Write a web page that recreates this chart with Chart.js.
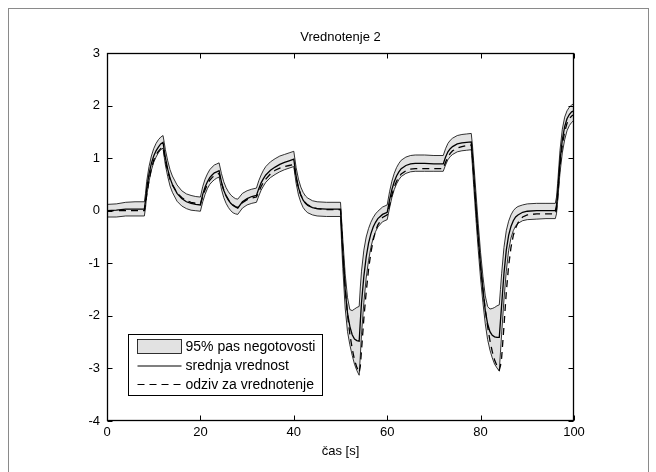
<!DOCTYPE html>
<html>
<head>
<meta charset="utf-8">
<title>Vrednotenje 2</title>
<script src="https://cdn.jsdelivr.net/npm/chart.js@4.4.1/dist/chart.umd.min.js"></script>
<style>
  html, body { margin: 0; padding: 0; background: #fff; }
  #wrap { position: relative; width: 656px; height: 472px; overflow: hidden; }
  #frame { position: absolute; left: 8px; top: 8px; width: 639px; height: 480px; border: 1px solid #8a8a8a; pointer-events: none; }
</style>
</head>
<body>
<div id="wrap">
  <canvas id="chart" width="656" height="472"></canvas>
  <div id="frame"></div>
</div>
<script>
const chartTitle = 'Vrednotenje 2';
const xTitle = 'čas [s]';
const seriesLabels = ['95% pas negotovosti', 'srednja vrednost', 'odziv za vrednotenje'];
const xTicks = [0, 20, 40, 60, 80, 100];
const yTicks = [-4, -3, -2, -1, 0, 1, 2, 3];

// time [s]
const time = [0, 2, 4, 6, 8,
  8.25, 8.5, 9, 9.5, 10, 10.5, 11, 11.5, 12,
  12.25, 12.5, 13, 13.5, 14, 15, 16, 17, 18, 19, 20,
  20.5, 21, 21.5, 22, 22.5, 23, 23.5, 24,
  24.5, 25, 25.5, 26, 26.5, 27, 27.5, 28,
  29, 30, 31, 32,
  32.5, 33, 33.5, 34, 35, 36, 37, 38, 39, 40,
  40.5, 41, 41.5, 42, 42.5, 43, 44, 45, 47, 50,
  50.25, 50.5, 51, 51.5, 52, 52.5, 53, 53.5, 54,
  54.25, 54.5, 55, 55.5, 56, 56.5, 57, 57.5, 58, 59, 60,
  60.5, 61, 61.5, 62, 62.5, 63, 64, 65, 66, 68, 70, 72,
  72.5, 73, 73.5, 74, 75, 76, 77, 78,
  78.25, 78.5, 79, 79.5, 80, 80.5, 81, 81.5, 82, 82.5, 83, 83.5, 84,
  84.25, 84.5, 85, 85.5, 86, 86.5, 87, 87.5, 88, 89, 90, 92, 94, 96,
  96.25, 96.5, 97, 97.5, 98, 98.5, 99, 99.5, 100];

// upper edge of the 95% band
const upper = [0.12, 0.13, 0.16, 0.17, 0.17,
  0.33, 0.56, 0.84, 1.04, 1.18, 1.28, 1.35, 1.4, 1.43,
  1.3, 1.16, 0.95, 0.78, 0.66, 0.49, 0.38, 0.32, 0.29, 0.27, 0.26,
  0.46, 0.6, 0.7, 0.78, 0.83, 0.87, 0.89, 0.91,
  0.71, 0.55, 0.44, 0.36, 0.3, 0.26, 0.23, 0.22,
  0.33, 0.38, 0.41, 0.43,
  0.57, 0.68, 0.77, 0.84, 0.93, 0.99, 1.04, 1.07, 1.1, 1.13,
  0.82, 0.6, 0.45, 0.35, 0.28, 0.24, 0.19, 0.17, 0.16, 0.16,
  -0.2, -0.55, -1.2, -1.65, -1.88, -1.9, -1.87, -1.84, -1.82,
  -1.45, -1.15, -0.75, -0.5, -0.34, -0.22, -0.13, -0.06, -0.01, 0.07, 0.11,
  0.36, 0.56, 0.71, 0.82, 0.9, 0.96, 1.02, 1.05, 1.06, 1.06, 1.05, 1.05,
  1.18, 1.28, 1.34, 1.38, 1.43, 1.45, 1.46, 1.47,
  1.25, 0.95, 0.35, -0.25, -0.8, -1.25, -1.62, -1.82, -1.87, -1.86, -1.84, -1.81, -1.79,
  -1.5, -1.2, -0.7, -0.38, -0.2, -0.08, 0.0, 0.05, 0.08, 0.11, 0.13, 0.14, 0.14, 0.14,
  0.26, 0.52, 1.15, 1.55, 1.78, 1.9, 1.97, 2.01, 2.04];

// lower edge of the 95% band
const lower = [-0.12, -0.12, -0.1, -0.1, -0.1,
  0.06, 0.28, 0.56, 0.77, 0.92, 1.02, 1.1, 1.16, 1.19,
  1.02, 0.87, 0.65, 0.47, 0.35, 0.18, 0.09, 0.04, 0.01, 0.0, -0.01,
  0.17, 0.31, 0.42, 0.5, 0.55, 0.59, 0.62, 0.64,
  0.41, 0.25, 0.14, 0.06, 0.0, -0.04, -0.06, -0.07,
  0.05, 0.11, 0.14, 0.16,
  0.28, 0.39, 0.47, 0.54, 0.63, 0.69, 0.74, 0.78, 0.81, 0.84,
  0.52, 0.3, 0.16, 0.06, 0.0, -0.04, -0.08, -0.1, -0.11, -0.11,
  -0.65, -1.1, -1.85, -2.3, -2.55, -2.75, -2.92, -3.04, -3.13,
  -2.75, -2.35, -1.75, -1.28, -0.95, -0.7, -0.52, -0.4, -0.31, -0.21, -0.17,
  0.05, 0.25, 0.4, 0.51, 0.59, 0.65, 0.71, 0.74, 0.75, 0.75, 0.75, 0.75,
  0.87, 0.97, 1.03, 1.07, 1.12, 1.14, 1.15, 1.16,
  0.85, 0.5, -0.15, -0.75, -1.3, -1.75, -2.15, -2.45, -2.65, -2.8, -2.92, -2.99, -3.05,
  -2.7, -2.35, -1.7, -1.15, -0.76, -0.52, -0.38, -0.29, -0.24, -0.19, -0.17, -0.16, -0.15, -0.15,
  -0.06, 0.18, 0.72, 1.1, 1.35, 1.52, 1.62, 1.68, 1.72];

// mean value (srednja vrednost)
const mean = [0.0, 0.01, 0.03, 0.03, 0.03,
  0.2, 0.42, 0.7, 0.9, 1.04, 1.14, 1.21, 1.27, 1.3,
  1.15, 1.01, 0.79, 0.62, 0.5, 0.33, 0.23, 0.17, 0.14, 0.12, 0.11,
  0.31, 0.45, 0.55, 0.63, 0.68, 0.72, 0.74, 0.76,
  0.55, 0.39, 0.28, 0.2, 0.14, 0.1, 0.07, 0.05,
  0.17, 0.23, 0.27, 0.29,
  0.42, 0.53, 0.61, 0.68, 0.77, 0.83, 0.88, 0.92, 0.95, 0.98,
  0.66, 0.44, 0.3, 0.2, 0.14, 0.1, 0.06, 0.04, 0.03, 0.03,
  -0.4, -0.8, -1.5, -1.95, -2.2, -2.36, -2.44, -2.47, -2.48,
  -2.1, -1.75, -1.25, -0.88, -0.62, -0.44, -0.31, -0.22, -0.15, -0.07, -0.03,
  0.2, 0.4, 0.55, 0.66, 0.74, 0.8, 0.86, 0.89, 0.9, 0.9, 0.89, 0.89,
  1.02, 1.12, 1.18, 1.22, 1.27, 1.29, 1.3, 1.31,
  1.05, 0.75, 0.1, -0.5, -1.05, -1.5, -1.9, -2.15, -2.3, -2.37, -2.4, -2.41, -2.41,
  -2.1, -1.8, -1.2, -0.75, -0.47, -0.3, -0.19, -0.12, -0.08, -0.03, -0.01, 0.0, 0.0, 0.0,
  0.1, 0.35, 0.95, 1.35, 1.6, 1.75, 1.83, 1.88, 1.9];

// response used for validation (odziv za vrednotenje)
const response = [0.0, 0.0, 0.0, 0.0, 0.0,
  0.12, 0.3, 0.58, 0.8, 0.96, 1.06, 1.13, 1.18, 1.21,
  1.08, 0.95, 0.75, 0.6, 0.49, 0.34, 0.25, 0.19, 0.16, 0.14, 0.13,
  0.27, 0.4, 0.5, 0.58, 0.63, 0.67, 0.69, 0.71,
  0.53, 0.39, 0.29, 0.21, 0.15, 0.11, 0.08, 0.06,
  0.15, 0.21, 0.24, 0.26,
  0.36, 0.46, 0.54, 0.6, 0.7, 0.77, 0.81, 0.84, 0.86, 0.88,
  0.62, 0.43, 0.3, 0.21, 0.15, 0.11, 0.06, 0.04, 0.02, 0.02,
  -0.3, -0.75, -1.45, -1.98, -2.35, -2.62, -2.84, -2.98, -3.08,
  -2.95, -2.65, -2.05, -1.55, -1.12, -0.8, -0.56, -0.39, -0.27, -0.13, -0.08,
  0.1, 0.3, 0.45, 0.56, 0.64, 0.7, 0.76, 0.79, 0.8, 0.8, 0.8, 0.8,
  0.92, 1.02, 1.09, 1.14, 1.19, 1.22, 1.24, 1.25,
  1.02, 0.7, 0.05, -0.55, -1.05, -1.5, -1.88, -2.2, -2.47, -2.68, -2.84, -2.95, -3.03,
  -2.95, -2.8, -2.2, -1.55, -1.05, -0.7, -0.47, -0.33, -0.23, -0.12, -0.08, -0.06, -0.06, -0.06,
  0.02, 0.25, 0.85, 1.25, 1.5, 1.66, 1.75, 1.8, 1.83];

const toPoints = (ys) => time.map((t, i) => ({ x: t, y: ys[i] }));

const FONT = "'Liberation Sans', Arial, Helvetica, sans-serif";
const BAND_FILL = '#e2e2e2';
const DASH = [7, 5];

// box around the plot with MATLAB-like inward ticks on all four sides
const axesBox = {
  id: 'axesBox',
  afterDatasetsDraw(chart) {
    const { ctx, chartArea: a, scales: { x, y } } = chart;
    const L = Math.round(a.left) + 0.5, R = Math.round(a.right) - 0.5;
    const T = Math.round(a.top) + 0.5, B = Math.round(a.bottom) - 0.5;
    const len = 5;
    ctx.save();
    ctx.strokeStyle = '#000';
    ctx.lineWidth = 1;
    ctx.beginPath();
    xTicks.forEach(v => {
      const px = Math.round(x.getPixelForValue(v)) + 0.5;
      ctx.moveTo(px, B); ctx.lineTo(px, B - len);
      ctx.moveTo(px, T); ctx.lineTo(px, T + len);
    });
    yTicks.forEach(v => {
      const py = Math.round(y.getPixelForValue(v)) + 0.5;
      ctx.moveTo(L, py); ctx.lineTo(L + len, py);
      ctx.moveTo(R, py); ctx.lineTo(R - len, py);
    });
    ctx.stroke();
    ctx.lineWidth = 1.3;
    ctx.strokeRect(L, T, R - L, B - T);
    ctx.restore();
  }
};

// legend box in the lower left corner of the plot
const boxLegend = {
  id: 'boxLegend',
  afterDraw(chart) {
    const { ctx, chartArea: a } = chart;
    const bx = a.left + 21.5, by = a.bottom - 86.5, bw = 194, bh = 61;
    const sx0 = bx + 9, sx1 = bx + 53, tx = bx + 57;
    const rows = [by + 12, by + 31.5, by + 50];
    ctx.save();
    ctx.fillStyle = '#fff';
    ctx.fillRect(bx, by, bw, bh);
    ctx.strokeStyle = '#000';
    ctx.lineWidth = 1;
    ctx.strokeRect(bx, by, bw, bh);

    // band patch
    ctx.fillStyle = BAND_FILL;
    ctx.fillRect(sx0, rows[0] - 7, sx1 - sx0, 14);
    ctx.lineWidth = 0.8;
    ctx.strokeRect(sx0, rows[0] - 7, sx1 - sx0, 14);

    // mean line
    ctx.lineWidth = 1.2;
    ctx.beginPath();
    ctx.moveTo(sx0, rows[1]); ctx.lineTo(sx1, rows[1]);
    ctx.stroke();

    // dashed line
    ctx.setLineDash(DASH);
    ctx.beginPath();
    ctx.moveTo(sx0, rows[2]); ctx.lineTo(sx1, rows[2]);
    ctx.stroke();
    ctx.setLineDash([]);

    ctx.fillStyle = '#000';
    ctx.font = '14px ' + FONT;
    ctx.textBaseline = 'middle';
    ctx.textAlign = 'left';
    seriesLabels.forEach((s, i) => ctx.fillText(s, tx, rows[i] + 0.5));
    ctx.restore();
  }
};

const ctx = document.getElementById('chart').getContext('2d');
new Chart(ctx, {
  type: 'line',
  data: {
    datasets: [
      {
        label: seriesLabels[0],
        data: toPoints(upper),
        borderColor: '#000',
        borderWidth: 0.8,
        backgroundColor: BAND_FILL,
        fill: '+1',
        pointRadius: 0
      },
      {
        label: seriesLabels[0] + ' (spodnja meja)',
        data: toPoints(lower),
        borderColor: '#000',
        borderWidth: 0.8,
        fill: false,
        pointRadius: 0
      },
      {
        label: seriesLabels[1],
        data: toPoints(mean),
        borderColor: '#000',
        borderWidth: 1.3,
        fill: false,
        pointRadius: 0
      },
      {
        label: seriesLabels[2],
        data: toPoints(response),
        borderColor: '#000',
        borderWidth: 1.3,
        borderDash: DASH,
        fill: false,
        pointRadius: 0
      }
    ]
  },
  options: {
    responsive: false,
    animation: false,
    layout: { padding: { left: 0, right: 82, top: 0, bottom: 0 } },
    plugins: {
      legend: { display: false },
      tooltip: { enabled: false },
      filler: { drawTime: 'beforeDatasetsDraw' },
      title: {
        display: true,
        text: chartTitle,
        fullSize: false,
        color: '#000',
        font: { family: FONT, size: 13, weight: 'normal', lineHeight: 1.2 },
        padding: { top: 30, bottom: 7.4 }
      }
    },
    scales: {
      x: {
        type: 'linear',
        min: xTicks[0],
        max: xTicks[xTicks.length - 1],
        afterBuildTicks: s => { s.ticks = xTicks.map(v => ({ value: v })); },
        afterFit: s => { s.height = 51; },
        grid: { display: false, drawTicks: false },
        border: { display: false },
        ticks: {
          color: '#000',
          padding: 4,
          maxRotation: 0,
          font: { family: FONT, size: 13, lineHeight: 1.2 }
        },
        title: {
          display: true,
          text: xTitle,
          color: '#000',
          font: { family: FONT, size: 13, lineHeight: 1.2 },
          padding: { top: 0, bottom: 13 }
        }
      },
      y: {
        type: 'linear',
        min: yTicks[0],
        max: yTicks[yTicks.length - 1],
        afterBuildTicks: s => { s.ticks = yTicks.map(v => ({ value: v })); },
        afterFit: s => { s.width = 107; },
        grid: { display: false, drawTicks: false },
        border: { display: false },
        ticks: {
          color: '#000',
          padding: 7,
          font: { family: FONT, size: 13, lineHeight: 1.2 }
        }
      }
    }
  },
  plugins: [axesBox, boxLegend]
});
</script>
</body>
</html>
